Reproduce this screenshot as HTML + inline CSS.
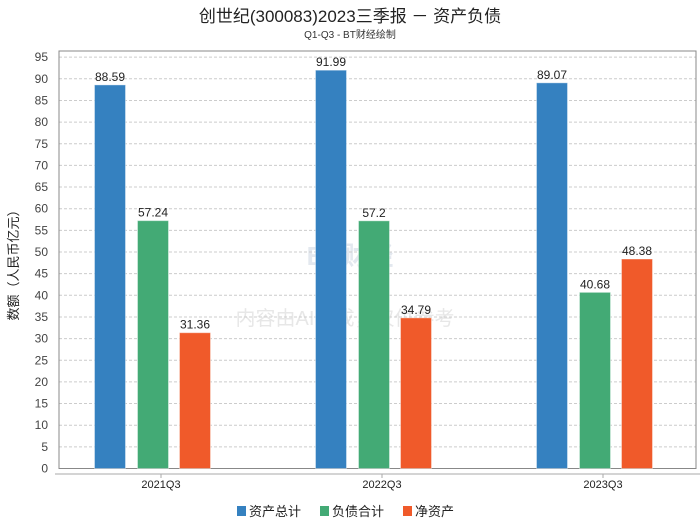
<!DOCTYPE html>
<html><head><meta charset="utf-8"><style>
body{margin:0;background:#fff;}
svg{display:block;font-family:"Liberation Sans","Noto Sans CJK SC",sans-serif;}
</style></head><body>
<svg id="c" width="700" height="524">
<text x="350" y="22" text-anchor="middle" font-size="17" fill="#222">创世纪(300083)2023三季报 － 资产负债</text>
<text x="350" y="38" text-anchor="middle" font-size="10" fill="#333">Q1-Q3 - BT财经绘制</text>
<text x="345" y="325" text-anchor="middle" font-size="20" fill="#ddd" opacity="0.7">内容由AI生成，仅供参考</text>
<text x="350" y="265" text-anchor="middle" font-size="26" fill="#e3e8ef" font-weight="bold">BT财经</text>
<g id="grid"></g>
<g id="bars"></g>
<text transform="translate(18,262) rotate(-90)" text-anchor="middle" font-size="13" fill="#222">数额（人民币亿元）</text>
<g font-size="13" fill="#222">
<rect x="237" y="506" width="9" height="10" fill="#3581c0"/><text x="249" y="516">资产总计</text>
<rect x="320" y="506" width="9" height="10" fill="#43aa75"/><text x="332" y="516">负债合计</text>
<rect x="403" y="506" width="9" height="10" fill="#f05a2a"/><text x="415" y="516">净资产</text>
</g>
</svg>
<script>
const categories=["2021Q3","2022Q3","2023Q3"];
const assets=[88.59,91.99,89.07];
const liabilities=[57.24,57.2,40.68];
const equity=[31.36,34.79,48.38];
const yTicks=[0,5,10,15,20,25,30,35,40,45,50,55,60,65,70,75,80,85,90,95];
const NS="http://www.w3.org/2000/svg";
function y(v){return 468.5-v*4.33;}
function xc(i){return 153+i*221;}
function mk(t,a,p){const e=document.createElementNS(NS,t);for(const k in a)e.setAttribute(k,a[k]);p.appendChild(e);return e;}
const g=document.getElementById('grid'),b=document.getElementById('bars');
yTicks.forEach(v=>{
 if(v>0){const l=mk('line',{x1:59,x2:696,y1:y(v),y2:y(v),stroke:'#ccc','stroke-dasharray':'3,2'},g);
 
 }
 const t=mk('text',{x:48,y:y(v)+4,'text-anchor':'end','font-size':12,fill:'#444'},g);t.textContent=v;
 
 
});
mk('rect',{x:59,y:51,width:637,height:y(0)-51,fill:'none',stroke:'#888'},g);
mk('line',{x1:55,x2:700,y1:474,y2:474,stroke:'#aaa'},g);
const series=[[assets,'#3581c0',-43,'assets'],[liabilities,'#43aa75',0,'liabilities'],[equity,'#f05a2a',42,'equity']];
categories.forEach((c,i)=>{
 mk('line',{x1:xc(i)+8,x2:xc(i)+8,y1:474,y2:478,stroke:'#aaa'},g);
 const t=mk('text',{x:xc(i)+8,y:488,'text-anchor':'middle','font-size':11,fill:'#222'},g);t.textContent=c;
 
 
 series.forEach(s=>{
  const v=s[0][i],x=xc(i)+s[2]-15.5;
  const r=mk('rect',{x:x,y:y(v),width:31,height:y(0)-y(v),fill:s[1],stroke:'#fff','stroke-opacity':0.4},b);
  
  
  const l=mk('text',{x:x+15.5,y:y(v)-4,'text-anchor':'middle','font-size':12,fill:'#222'},b);l.textContent=v;
  
  
 });
});
</script>
</body></html>
